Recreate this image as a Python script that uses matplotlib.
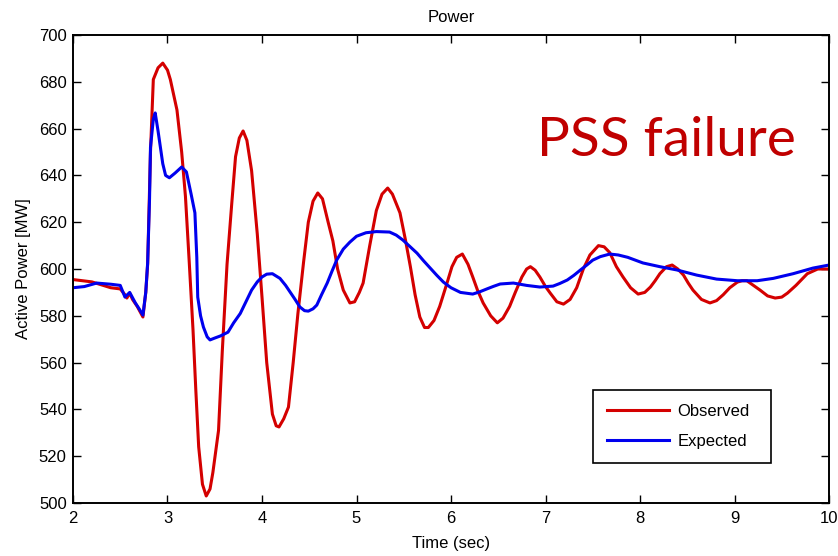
import matplotlib
matplotlib.use('Agg')
from matplotlib import pyplot as plt

# Observed (PSS failure) active power
obs_t = [2.00, 2.20, 2.40, 2.50, 2.55, 2.57, 2.60, 2.63, 2.68, 2.74, 2.77, 2.79, 2.82, 2.85,
         2.90, 2.95, 3.00, 3.03, 3.10, 3.15, 3.19, 3.23, 3.27, 3.30, 3.33, 3.37, 3.41, 3.45,
         3.48, 3.54, 3.58, 3.63, 3.68, 3.72, 3.76, 3.80, 3.84, 3.89, 3.95, 4.00, 4.05, 4.11,
         4.15, 4.18, 4.23, 4.28, 4.33, 4.38, 4.44, 4.49, 4.54, 4.59, 4.64, 4.70, 4.75, 4.80,
         4.86, 4.93, 4.98, 5.03, 5.07, 5.14, 5.21, 5.27, 5.33, 5.38, 5.46, 5.52, 5.57, 5.62,
         5.67, 5.72, 5.76, 5.82, 5.88, 5.95, 6.01, 6.06, 6.12, 6.18, 6.23, 6.28, 6.34, 6.42,
         6.49, 6.55, 6.62, 6.68, 6.75, 6.80, 6.84, 6.89, 6.94, 7.00, 7.05, 7.12, 7.19, 7.26,
         7.33, 7.40, 7.47, 7.56, 7.62, 7.68, 7.75, 7.82, 7.90, 7.98, 8.05, 8.11, 8.16, 8.21,
         8.28, 8.34, 8.40, 8.46, 8.51, 8.56, 8.65, 8.74, 8.81, 8.88, 8.95, 9.03, 9.08, 9.13,
         9.20, 9.27, 9.35, 9.43, 9.50, 9.56, 9.65, 9.77, 9.88, 10.00]
obs_p = [595.5, 594.5, 592, 591.5, 589, 587.6, 589.7, 587, 584, 579.5, 590, 602, 650, 681,
         686, 688, 685, 681, 668, 650, 631, 603, 574, 548, 524, 508, 503, 506,
         513, 531, 565, 602, 628, 648, 656, 659, 655, 642, 615, 588, 560, 538,
         533, 532.5, 536, 541, 560, 581, 603, 620, 629, 632.5, 630, 620, 612, 600,
         591, 585.5, 586, 590, 594, 610, 625, 632, 634.6, 632, 624, 612, 601, 589,
         579.5, 575, 575, 578, 584, 593, 601, 605, 606.4, 602, 596.6, 591, 585.5, 580,
         577, 579, 584, 590, 596.6, 600, 601, 599.5, 596.6, 592.5, 589.7, 586, 585, 587,
         592, 600, 606, 610, 609.5, 607, 601, 596.6, 592, 589.3, 590, 592.3, 595, 598,
         601, 601.7, 600, 597.4, 594, 591, 587, 585.5, 586.5, 589, 592, 594.4, 595, 595,
         593, 591, 588.5, 587.6, 588, 589.7, 593, 598, 600, 600]

# Expected active power
exp_t = [2.00, 2.12, 2.25, 2.40, 2.50, 2.55, 2.60, 2.62, 2.66, 2.70, 2.74, 2.77, 2.79, 2.81,
         2.82, 2.85, 2.87, 2.90, 2.95, 2.98, 3.02, 3.08, 3.15, 3.20, 3.25, 3.29, 3.31, 3.32,
         3.35, 3.38, 3.42, 3.45, 3.50, 3.56, 3.64, 3.70, 3.77, 3.83, 3.89, 3.95, 4.00, 4.05,
         4.11, 4.19, 4.25, 4.30, 4.35, 4.40, 4.45, 4.49, 4.54, 4.58, 4.63, 4.69, 4.74, 4.79,
         4.86, 4.93, 5.00, 5.10, 5.21, 5.35, 5.42, 5.49, 5.56, 5.64, 5.71, 5.78, 5.85, 5.92,
         6.00, 6.10, 6.23, 6.30, 6.38, 6.45, 6.52, 6.66, 6.80, 6.94, 7.08, 7.15, 7.23, 7.30,
         7.37, 7.44, 7.50, 7.58, 7.68, 7.77, 7.87, 8.03, 8.21, 8.39, 8.60, 8.81, 9.03, 9.24,
         9.41, 9.62, 9.83, 10.00]
exp_p = [592, 592.5, 594, 593.5, 593, 588, 590, 588.5, 585.5, 583, 580.3, 590, 602.6, 630,
         652, 664, 666.7, 659, 645, 640, 639, 641, 643.6, 641.5, 632, 624, 605, 588,
         580, 575.2, 571, 569.7, 570.5, 571.4, 573, 577, 581, 586, 591, 594.5, 596.6, 597.8,
         598, 596, 593, 590, 587, 583.8, 582.2, 582, 583, 584.6, 589, 594, 599, 603.8,
         608.5, 611.5, 614, 615.5, 616, 615.8, 614.5, 612.4, 609.8, 606.8, 603.5, 600.4, 597.3, 594.4,
         592, 590, 589.3, 590.2, 591.5, 592.6, 593.6, 594, 593, 592.3, 592.7, 593.8, 595.3, 597.3,
         599.6, 601.8, 603.8, 605.3, 606.4, 606, 605, 602.6, 601, 599.6, 597.4, 595.7, 595, 595,
         596, 598, 600.4, 601.7]

x_ticks = [2, 3, 4, 5, 6, 7, 8, 9, 10]
y_ticks = [500, 520, 540, 560, 580, 600, 620, 640, 660, 680, 700]

plt.rcParams['font.family'] = ['Liberation Sans', 'DejaVu Sans']
plt.rcParams['font.size'] = 12

fig = plt.figure(figsize=(8.38, 5.56), dpi=100)
ax = fig.add_axes([0.0871, 0.0953, 0.9022, 0.8417])

ax.plot(obs_t, obs_p, color='#d40000', lw=2.2, label='Observed')
ax.plot(exp_t, exp_p, color='#0000ee', lw=2.2, label='Expected')

ax.set_xlim(2, 10)
ax.set_ylim(500, 700)
ax.set_xticks(x_ticks)
ax.set_yticks(y_ticks)
ax.tick_params(direction='in', length=5.5, width=1, top=True, right=True, labelsize=12)
ax.tick_params(axis='x', pad=6)
ax.tick_params(axis='y', pad=4.5)
for s in ax.spines.values():
    s.set_linewidth(1.4)

ax.set_title('Power', fontsize=12, pad=9.5)
ax.set_xlabel('Time (sec)', fontsize=12, labelpad=7)
ax.set_ylabel('Active Power [MW]', fontsize=12, labelpad=6)

# Annotation in the upper right
ax.text(0.614, 0.741, 'PSS failure', transform=ax.transAxes, color='#c00000',
        fontsize=39.5, family='Lato', va='baseline', ha='left')

leg = ax.legend(loc='lower left', bbox_to_anchor=(0.688, 0.0855, 0.235, 0.154),
                mode='expand', borderaxespad=0, fancybox=False, framealpha=1,
                borderpad=0.85, handlelength=3.7, handletextpad=0.5,
                labelspacing=0.9, fontsize=12)
leg.get_frame().set_edgecolor('black')
leg.get_frame().set_linewidth(1.2)

fig.savefig('out.png', dpi=100)
